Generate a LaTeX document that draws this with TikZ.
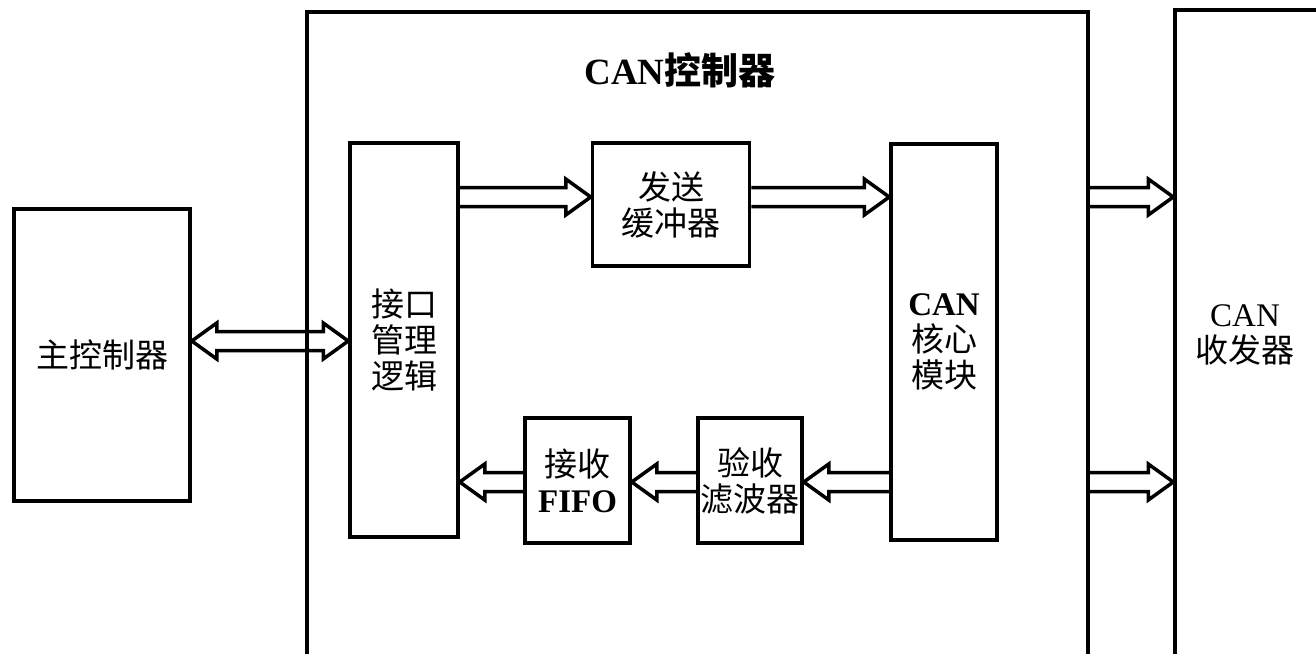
\documentclass[tikz,border=0pt]{standalone}
\usepackage{fontspec}
\setmainfont{Liberation Serif}
\newfontfamily\cjk{Noto Sans CJK SC}
\newcommand{\zh}[1]{{\cjk #1}}
\usetikzlibrary{calc}
\newcommand{\busarrow}[3]{%
  \draw[bus] let \p1=(#1), \p2=(#2) in
    (\x1,\y1+9.5pt) -- ({\x2-(#3)*25pt},\y1+9.5pt) -- ({\x2-(#3)*25pt},\y1+18pt)
    -- (\x2,\y1) -- ({\x2-(#3)*25pt},\y1-18pt) -- ({\x2-(#3)*25pt},\y1-9.5pt) -- (\x1,\y1-9.5pt);}
\begin{document}
\begin{tikzpicture}[x=1pt, y=-1pt,
    block/.style={rectangle, draw, line width=3.5pt, inner sep=0pt, align=center,
      font=\fontsize{33}{36}\selectfont},
    bus/.style={line width=3.5pt, line join=miter}]
    \useasboundingbox (0,0) rectangle (1316,653);
    \clip (0,0) rectangle (1316,653);
    \node[block, minimum width=176, minimum height=292] (host) at (102,355) {\zh{主控制器}};
    \node[block, minimum width=781, minimum height=708] (ctrl) at (697.5,366) {};
    \node[font=\fontsize{37}{40}\selectfont\bfseries] (ctrltitle) at (680,70) {CAN\zh{控制器}};
    \node[block, minimum width=108, minimum height=394] (iface) at (404,340) {\zh{接口}\\\zh{管理}\\\zh{逻辑}};
    \node[block, minimum width=157, minimum height=123] (send) at (671,204.5) {\zh{发送}\\\zh{缓冲器}};
    \node[block, minimum width=106, minimum height=396] (core) at (944,342) {\textbf{CAN}\\\zh{核心}\\\zh{模块}};
    \node[block, minimum width=105, minimum height=125] (fifo) at (577.5,480.5) {\zh{接收}\\\textbf{FIFO}};
    \node[block, minimum width=104, minimum height=125] (filter) at (750,480.5) {\zh{验收}\\\zh{滤波器}};
    \node[block, minimum width=250, minimum height=712] (xcvr) at (1300,366) {};
    \node[font=\fontsize{33}{36}\selectfont, align=center] (xcvrtxt) at (1245,335) {CAN\\\zh{收发器}};
    \draw[bus] let \p1=(host.east |- 0,341), \p2=(iface.west |- 0,341) in
      (\x1,\y1) -- (\x1+25pt,\y1-18pt) -- (\x1+25pt,\y1-9.5pt) -- (\x2-25pt,\y1-9.5pt)
      -- (\x2-25pt,\y1-18pt) -- (\x2,\y1) -- (\x2-25pt,\y1+18pt) -- (\x2-25pt,\y1+9.5pt)
      -- (\x1+25pt,\y1+9.5pt) -- (\x1+25pt,\y1+18pt) -- cycle;
    \busarrow{iface.east |- 0,197}{send.west |- 0,197}{1}
    \busarrow{send.east |- 0,197}{core.west |- 0,197}{1}
    \busarrow{core.west |- 0,482}{filter.east |- 0,482}{-1}
    \busarrow{filter.west |- 0,482}{fifo.east |- 0,482}{-1}
    \busarrow{fifo.west |- 0,482}{iface.east |- 0,482}{-1}
    \busarrow{ctrl.east |- 0,197}{xcvr.west |- 0,197}{1}
    \busarrow{ctrl.east |- 0,482}{xcvr.west |- 0,482}{1}
\end{tikzpicture}
\end{document}
